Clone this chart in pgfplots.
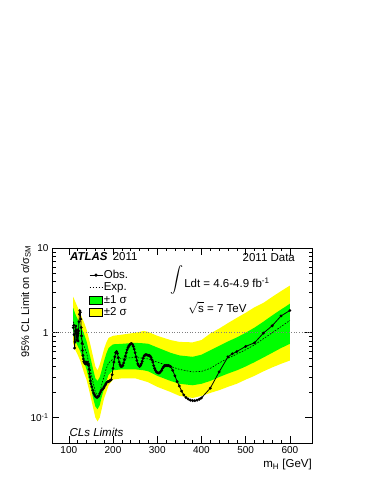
\documentclass[border=0pt]{standalone}
\usepackage{fontspec}
\setmainfont{Liberation Sans}
\usepackage{pgfplots}
\usepackage{pgfplotstable}
\pgfplotsset{compat=1.18}
\usepgfplotslibrary{fillbetween}
\definecolor{rootgreen}{RGB}{0,255,0}
\definecolor{rootyellow}{RGB}{255,255,0}
\pgfplotsset{
  obsleg/.style={legend image code/.code={\draw[##1] (0cm,0cm) -- (0.46cm,0cm); \fill[black] (0.23cm,0cm) circle (1.2pt);}},
  lineleg/.style={legend image code/.code={\draw[##1] (0cm,0cm) -- (0.46cm,0cm);}},
  boxleg/.style={legend image code/.code={\draw[##1] (0cm,-0.13cm) rectangle (0.46cm,0.14cm);}},
}

\pgfplotstableread{
m y2lo y1lo exp y1hi y2hi
110 0.75 0.95 1.35 1.95 2.65
115 0.62 0.80 1.15 1.65 2.30
120 0.55 0.70 1.05 1.45 2.00
125 0.48 0.62 0.95 1.30 1.75
130 0.40 0.52 0.82 1.10 1.50
135 0.33 0.44 0.68 0.95 1.30
140 0.28 0.37 0.58 0.80 1.10
145 0.22 0.29 0.45 0.62 0.87
150 0.17 0.22 0.34 0.48 0.68
155 0.13 0.17 0.26 0.37 0.52
160 0.10 0.135 0.20 0.29 0.40
165 0.09 0.125 0.18 0.27 0.36
170 0.10 0.14 0.20 0.30 0.42
175 0.13 0.18 0.25 0.37 0.52
180 0.17 0.22 0.31 0.47 0.65
185 0.20 0.27 0.38 0.57 0.77
190 0.24 0.32 0.44 0.66 0.87
200 0.28 0.36 0.49 0.73 0.92
220 0.29 0.37 0.50 0.74 0.95
250 0.29 0.37 0.51 0.76 1.00
270 0.27 0.36 0.50 0.75 1.05
280 0.26 0.35 0.49 0.74 1.02
300 0.23 0.31 0.45 0.67 0.92
330 0.20 0.27 0.40 0.58 0.82
350 0.18 0.25 0.37 0.54 0.78
380 0.17 0.24 0.345 0.52 0.77
400 0.18 0.25 0.35 0.55 0.82
420 0.195 0.27 0.38 0.62 0.98
440 0.21 0.30 0.44 0.70 1.12
460 0.23 0.33 0.50 0.79 1.30
480 0.25 0.36 0.56 0.88 1.50
500 0.28 0.40 0.63 1.00 1.72
520 0.31 0.45 0.72 1.15 2.00
540 0.35 0.51 0.85 1.35 2.25
560 0.39 0.58 1.00 1.60 2.65
580 0.43 0.66 1.18 1.88 3.10
600 0.47 0.74 1.40 2.20 3.60
}\bands

\pgfplotstableread{
m obs
110 1.15
111 1.22
112 0.95
113 0.66
114 0.78
115 1.05
116 1.2
117 1.0
118 0.82
119 1.08
120 0.92
121 0.8
122 1.05
123 1.35
124 1.65
125 1.82
126 1.75
127 1.45
128 1.15
129 0.92
130 0.75
131 0.62
132 0.54
133 0.49
134 0.46
135 0.45
136 0.44
137 0.43
138 0.45
139 0.44
140 0.43
141 0.45
142 0.43
143 0.42
144 0.43
145 0.41
146 0.37
147 0.33
148 0.3
149 0.27
150 0.25
152 0.23
154 0.21
156 0.195
158 0.185
160 0.178
162 0.174
164 0.172
166 0.175
168 0.18
170 0.19
172 0.2
174 0.21
176 0.215
178 0.22
180 0.23
182 0.24
184 0.25
186 0.26
188 0.265
190 0.265
192 0.27
194 0.275
196 0.28
198 0.32
200 0.38
202 0.45
204 0.52
206 0.58
208 0.6
210 0.57
212 0.51
214 0.45
216 0.42
218 0.40
220 0.40
222 0.41
224 0.44
226 0.48
228 0.53
230 0.58
232 0.63
234 0.67
236 0.7
238 0.72
240 0.74
242 0.745
244 0.73
246 0.69
248 0.64
250 0.58
252 0.52
254 0.47
256 0.43
258 0.41
260 0.40
262 0.41
264 0.43
266 0.46
268 0.5
270 0.53
272 0.545
274 0.55
276 0.55
278 0.545
280 0.54
282 0.54
284 0.53
286 0.51
288 0.48
290 0.45
292 0.41
294 0.38
296 0.36
298 0.345
300 0.338
302 0.335
304 0.335
306 0.34
308 0.35
310 0.36
312 0.38
314 0.395
316 0.405
318 0.41
320 0.41
322 0.41
324 0.41
326 0.41
328 0.405
330 0.40
335 0.36
340 0.31
345 0.265
350 0.235
355 0.205
360 0.185
365 0.172
370 0.165
375 0.16
380 0.158
385 0.158
390 0.16
395 0.164
400 0.17
420 0.222
440 0.345
460 0.52
470 0.565
480 0.6
500 0.69
520 0.76
540 0.99
560 1.21
580 1.58
600 1.83
}\obs

\begin{document}
\begin{tikzpicture}
\begin{axis}[
  at={(52pt,41pt)}, anchor=south west,
  width=260pt, height=195pt, scale only axis,
  xmin=62, xmax=650,
  ymode=log, ymin=0.05, ymax=10,
  xtick={100,200,300,400,500,600},
  minor x tick num=4,
  ytick={0.1,1,10},
  yticklabels={10\textsuperscript{-1},1,10},
  tick align=inside, xtick pos=both, ytick pos=both,
  major tick length=7pt, minor tick length=3.5pt,
  every tick/.style={black, line width=0.5pt},
  axis line style={black, line width=0.8pt},
  tick label style={font=\fontsize{10}{12}\selectfont},
  /pgf/number format/assume math mode=true,
  xlabel={m\textsubscript{H} [GeV]},
  ylabel={95\% CL Limit on σ/σ\textsubscript{SM}},
  xlabel style={at={(rel axis cs:1,-0.082)}, anchor=north east, inner sep=0pt, font=\fontsize{11.5}{13}\selectfont},
  ylabel style={at={(rel axis cs:-0.081,1.015)}, anchor=south east, inner sep=0pt, font=\fontsize{11}{13}\selectfont},
  legend style={at={(rel axis cs:0.142,0.894)}, anchor=north west, draw=none, fill=none,
    inner sep=0pt, row sep=0pt, font=\fontsize{11.5}{13}\selectfont,
    nodes={text height=8.5pt, text depth=2.4pt, inner sep=0.8pt}},
  legend cell align=left,
]
\addlegendimage{black, line width=0.8pt, obsleg}
\addlegendentry{Obs.}
\addlegendimage{black, line width=0.6pt, dash pattern=on 1.6pt off 1.4pt, lineleg}
\addlegendentry{Exp.}
\addlegendimage{draw=black, fill=rootgreen, line width=0.5pt, boxleg}
\addlegendentry{±1 σ}
\addlegendimage{draw=black, fill=rootyellow, line width=0.5pt, boxleg}
\addlegendentry{±2 σ}

\addplot[name path=y2hi, draw=none, forget plot] table[x=m, y=y2hi] {\bands};
\addplot[name path=y2lo, draw=none, forget plot] table[x=m, y=y2lo] {\bands};
\addplot[rootyellow, forget plot] fill between[of=y2hi and y2lo];
\addplot[name path=y1hi, draw=none, forget plot] table[x=m, y=y1hi] {\bands};
\addplot[name path=y1lo, draw=none, forget plot] table[x=m, y=y1lo] {\bands};
\addplot[rootgreen, forget plot] fill between[of=y1hi and y1lo];

\addplot[gray, line width=0.6pt, dotted, forget plot] coordinates {(62,1) (650,1)};
\addplot[black, line width=0.6pt, dash pattern=on 1.6pt off 1.4pt, forget plot] table[x=m, y=exp] {\bands};
\addplot[black, line width=0.8pt, mark=*, mark size=1.0pt, forget plot] table[x=m, y=obs] {\obs};

\node[anchor=west, inner sep=0pt, font=\fontsize{11.5}{13}\selectfont] at (rel axis cs:0.069,0.954) {\textbf{\textit{ATLAS}}\hspace{0.45em}2011};
\node[anchor=east, inner sep=0pt, font=\fontsize{11.5}{13}\selectfont] at (rel axis cs:0.935,0.951) {2011 Data};
\node[inner sep=0pt] at (rel axis cs:0.479,0.836) {\scalebox{1.3}{$\displaystyle\int$}};
\node[anchor=west, inner sep=0pt, font=\fontsize{11.5}{13}\selectfont] at (rel axis cs:0.508,0.821) {Ldt = 4.6-4.9 fb\textsuperscript{-1}};
\node[anchor=west, inner sep=0pt, font=\fontsize{11.5}{13}\selectfont] at (rel axis cs:0.523,0.691) {$\sqrt{\mbox{s}}$ = 7 TeV};
\node[anchor=west, inner sep=0pt, font=\fontsize{11.5}{13}\selectfont] at (rel axis cs:0.067,0.055) {\textit{CLs Limits}};
\end{axis}
\path (0,0) rectangle (374pt,484pt);
\end{tikzpicture}
\end{document}
